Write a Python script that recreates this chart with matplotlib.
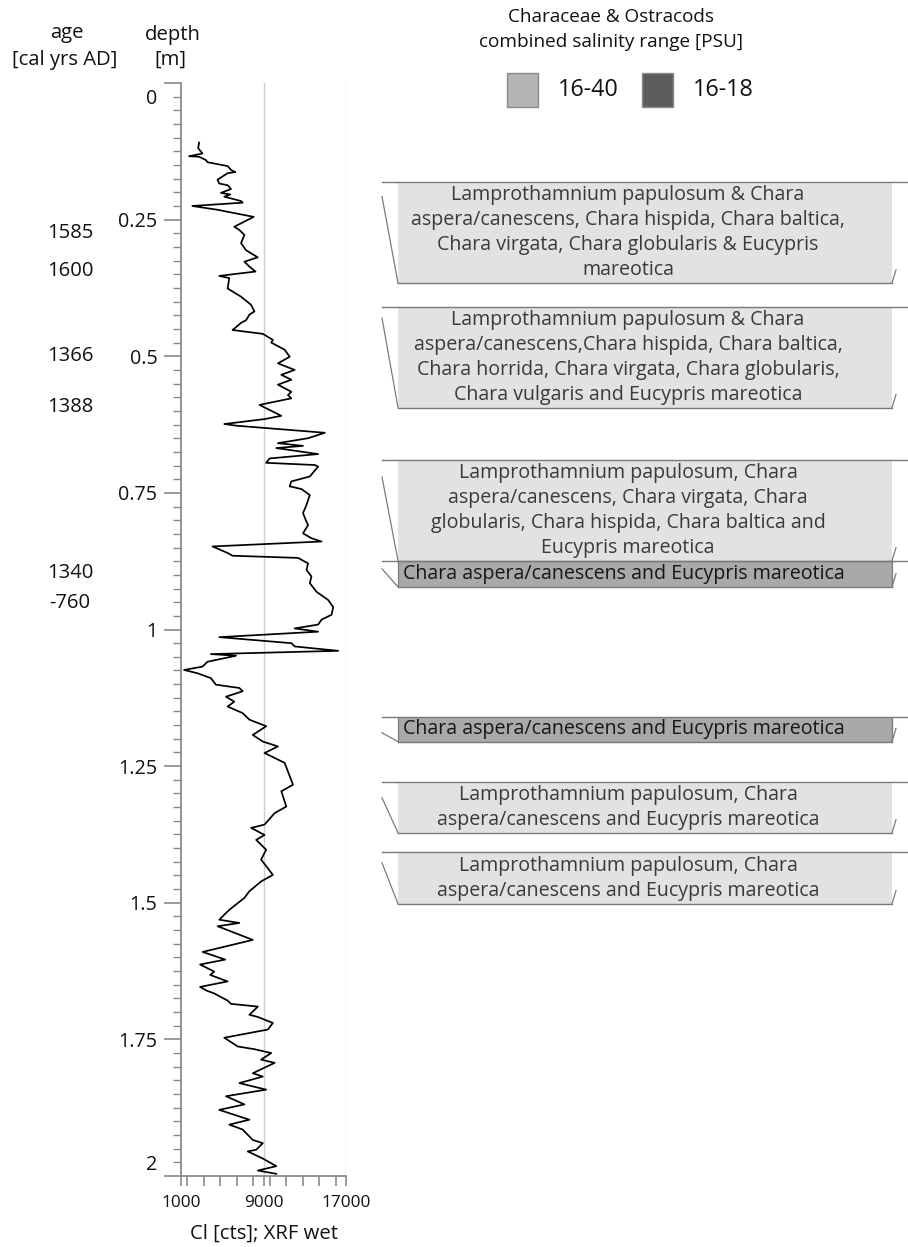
import matplotlib
matplotlib.use("Agg")
import matplotlib.pyplot as plt
from matplotlib.patches import Rectangle, Polygon
from matplotlib.ticker import MultipleLocator
from matplotlib.transforms import ScaledTranslation, blended_transform_factory

plt.rcParams["font.family"] = ["Open Sans", "DejaVu Sans"]

# Cl counts (XRF, wet) against core depth [m]
depth = [0.109, 0.119, 0.129, 0.134, 0.135, 0.141, 0.145, 0.152, 0.159, 0.163,
         0.165, 0.177, 0.184, 0.187, 0.194, 0.201, 0.204, 0.208, 0.216, 0.219,
         0.225, 0.232, 0.245, 0.263, 0.269, 0.278, 0.293, 0.306, 0.319, 0.327,
         0.336, 0.345, 0.353, 0.357, 0.376, 0.391, 0.406, 0.418, 0.424, 0.434,
         0.439, 0.452, 0.459, 0.470, 0.475, 0.488, 0.501, 0.513, 0.525, 0.534,
         0.543, 0.552, 0.565, 0.571, 0.577, 0.589, 0.609, 0.615, 0.624, 0.627,
         0.640, 0.650, 0.659, 0.664, 0.668, 0.679, 0.687, 0.695, 0.699, 0.702,
         0.720, 0.729, 0.738, 0.743, 0.754, 0.772, 0.787, 0.803, 0.809, 0.824,
         0.833, 0.839, 0.848, 0.860, 0.865, 0.869, 0.879, 0.891, 0.903, 0.915,
         0.931, 0.946, 0.959, 0.973, 0.982, 0.991, 0.998, 1.001, 1.004, 1.014,
         1.025, 1.031, 1.039, 1.045, 1.048, 1.059, 1.068, 1.074, 1.080, 1.089,
         1.101, 1.107, 1.113, 1.123, 1.132, 1.141, 1.153, 1.165, 1.177, 1.193,
         1.205, 1.214, 1.226, 1.235, 1.244, 1.260, 1.284, 1.296, 1.324, 1.336,
         1.357, 1.363, 1.376, 1.385, 1.403, 1.421, 1.449, 1.461, 1.479, 1.491,
         1.513, 1.531, 1.537, 1.543, 1.568, 1.590, 1.604, 1.613, 1.626, 1.632,
         1.644, 1.654, 1.661, 1.666, 1.679, 1.685, 1.690, 1.705, 1.709, 1.720,
         1.732, 1.747, 1.763, 1.768, 1.775, 1.787, 1.793, 1.812, 1.818, 1.830,
         1.842, 1.854, 1.869, 1.879, 1.897, 1.906, 1.915, 1.934, 1.940, 1.952,
         1.955, 1.968, 1.982, 1.990, 1.996]
cl = [2760, 2660, 3080, 1780, 2760, 3410, 3570, 5520, 5850, 6270,
      5520, 4540, 4710, 5520, 5850, 4870, 5780, 5200, 6820, 6980,
      2100, 4540, 8050, 6170, 6660, 7150, 6820, 7310, 8440, 7150,
      7630, 8220, 4710, 5680, 5520, 6820, 7800, 8120, 7630, 7310,
      6820, 6000, 8930, 9910, 9750, 11050, 11540, 10400, 12020, 10730,
      11700, 10400, 11700, 11370, 11700, 8610, 10730, 9100, 5200, 6340,
      14950, 13320, 10400, 12830, 10240, 14300, 9590, 9260, 13980, 14300,
      13490, 11700, 11540, 12680, 13490, 13170, 12830, 13170, 13320, 12830,
      13650, 14630, 4050, 5520, 6000, 12350, 13320, 13170, 13650, 13490,
      14140, 15270, 15760, 15600, 14630, 14300, 12020, 13170, 14300, 4710,
      11700, 12020, 16250, 3900, 6340, 3570, 3080, 1290, 2590, 3900,
      4390, 6660, 6980, 5360, 6170, 5520, 6980, 7630, 9260, 7960,
      8930, 10400, 9100, 10080, 11050, 11370, 11860, 10730, 11210, 10080,
      9100, 7800, 9100, 8290, 9260, 8770, 9910, 8770, 7630, 7150,
      5680, 4710, 6660, 4550, 7960, 3100, 5290, 2850, 4230, 3830,
      5520, 2850, 3510, 4230, 5520, 5850, 8450, 7630, 8450, 9910,
      9420, 5200, 6500, 8130, 9750, 8770, 10080, 7960, 8930, 6660,
      9260, 5360, 7150, 4710, 7630, 5680, 6980, 7960, 8930, 8290,
      7470, 8930, 10240, 8450, 10240]

age_depth = [0.274, 0.344, 0.500, 0.593, 0.896, 0.951]
age_label = ["1585", "1600", "1366", "1388", "1340", "-760"]

# sampled intervals with the taxa found and their salinity class
zone_top = [0.181, 0.410, 0.690, 0.874, 1.160, 1.279, 1.408]
zone_bottom = [0.208, 0.430, 0.721, 0.889, 1.189, 1.308, 1.427]
zone_range = ["16-40", "16-40", "16-40", "16-18", "16-18", "16-40", "16-40"]
zone_text = [
    "Lamprothamnium papulosum & Chara\naspera/canescens, Chara hispida, Chara baltica,\n"
    "Chara virgata, Chara globularis & Eucypris\nmareotica",
    "Lamprothamnium papulosum & Chara\naspera/canescens,Chara hispida, Chara baltica,\n"
    "Chara horrida, Chara virgata, Chara globularis,\nChara vulgaris and Eucypris mareotica",
    "Lamprothamnium papulosum, Chara\naspera/canescens, Chara virgata, Chara\n"
    "globularis, Chara hispida, Chara baltica and\nEucypris mareotica",
    "Chara aspera/canescens and Eucypris mareotica",
    "Chara aspera/canescens and Eucypris mareotica",
    "Lamprothamnium papulosum, Chara\naspera/canescens and Eucypris mareotica",
    "Lamprothamnium papulosum, Chara\naspera/canescens and Eucypris mareotica",
]
# how far down each label box is stretched to hold its text
box_bottom = [0.366, 0.594, 0.874, 0.922, 1.205, 1.372, 1.502]

range_fill = {"16-40": "#e2e2e2", "16-18": "#a9a9a9"}
range_key = {"16-40": "#b4b4b4", "16-18": "#5c5c5c"}
range_ink = {"16-40": "#3a3a3a", "16-18": "#161616"}
ink = "#111111"
axis_grey = "#8a8a8a"

W, H = 908, 1247
fig = plt.figure(figsize=(W / 100, H / 100), dpi=100)

# pixel overlay for headers and legend
pax = fig.add_axes([0, 0, 1, 1])
pax.set_xlim(0, W)
pax.set_ylim(H, 0)
pax.axis("off")

top_px, bot_px = 83, 1176
ax_l, ax_r = 181, 346
ax = fig.add_axes([ax_l / W, 1 - bot_px / H, (ax_r - ax_l) / W, (bot_px - top_px) / H])
ax.patch.set_visible(False)
ax.plot(cl, depth, color="black", lw=1.25)
ax.set_xlim(1000, 17000)
ax.set_ylim(2, 0)
for v in (9000, 17000):
    ax.axvline(v, color="#cfcfcf", lw=1.0, zorder=0)
for s in ("top", "right"):
    ax.spines[s].set_visible(False)
for s in ("left", "bottom"):
    ax.spines[s].set_color(axis_grey)
    ax.spines[s].set_linewidth(1.3)

ax.set_yticks([0, 0.25, 0.5, 0.75, 1, 1.25, 1.5, 1.75, 2])
ax.set_yticklabels(["0", "0.25", "0.5", "0.75", "1", "1.25", "1.5", "1.75", "2"])
ax.yaxis.set_minor_locator(MultipleLocator(0.025))
ax.set_xticks([1000, 9000, 17000])
ax.set_xticklabels(["1000", "9000", "17000"])
ax.xaxis.set_minor_locator(MultipleLocator(1600))
ax.tick_params(axis="y", which="major", length=12, width=1.2, color=axis_grey,
               labelsize=14.2, pad=5, labelcolor=ink)
ax.tick_params(axis="y", which="minor", length=6, width=1.0, color=axis_grey)
ax.tick_params(axis="x", which="both", length=7, width=1.2, color=axis_grey,
               labelsize=12.4, pad=7, labelcolor=ink)
ylabels = ax.get_yticklabels()
ylabels[0].set_transform(ylabels[0].get_transform() + ScaledTranslation(0, -0.14, fig.dpi_scale_trans))
ylabels[-1].set_transform(ylabels[-1].get_transform() + ScaledTranslation(0, 0.14, fig.dpi_scale_trans))
ax.set_xlabel("Cl [cts]; XRF wet", fontsize=14.6, labelpad=9, color=ink)

# age column
age_tf = blended_transform_factory(fig.transFigure, ax.transData)
for d, a in zip(age_depth, age_label):
    fig.text(70 / W, d, a, transform=age_tf, ha="center", va="center",
             fontsize=14.6, color=ink)

pax.text(67, 33, "age", ha="center", va="center", fontsize=14.6, color=ink)
pax.text(65, 60, "[cal yrs AD]", ha="center", va="center", fontsize=14.6, color=ink)
pax.text(173, 35, "depth", ha="center", va="center", fontsize=14.6, color=ink)
pax.text(170, 60, "[m]", ha="center", va="center", fontsize=14.6, color=ink)

# legend
pax.text(611, 17, "Characeae & Ostracods", ha="center", va="center", fontsize=13.6, color=ink)
pax.text(611, 42, "combined salinity range [PSU]", ha="center", va="center", fontsize=13.7,
         color=ink)
for x0, key in ((507, "16-40"), (642, "16-18")):
    pax.add_patch(Rectangle((x0, 73), 31, 34, facecolor=range_key[key],
                            edgecolor=axis_grey, lw=1.0))
    pax.text(x0 + 51, 90, key, ha="left", va="center", fontsize=16.8, color=ink)

# zone boxes, y in depth
zax = fig.add_axes([370 / W, 1 - bot_px / H, (W - 370) / W, (bot_px - top_px) / H])
zax.set_xlim(370, W)
zax.set_ylim(2, 0)
zax.axis("off")
xl0, xl1, xr1, xr0 = 382, 398, 892, 909
edge = "#7a7a7a"
for top, bot, rng, txt, bb in zip(zone_top, zone_bottom, zone_range, zone_text, box_bottom):
    zax.add_patch(Polygon([(xl1, top), (xr1, top), (xr1, bb), (xl1, bb)], closed=True,
                          facecolor=range_fill[rng], edgecolor="none"))
    zax.plot([xl0, xr0], [top, top], color=edge, lw=1.0, clip_on=False)
    zax.plot([xl1, xr1], [bb, bb], color=edge, lw=1.0)
    zax.plot([xl0, xl1], [bot, bb], color=edge, lw=0.9)
    zax.plot([xr1, xr1 + 4], [bb, bb - 0.024], color=edge, lw=0.9)
    if rng == "16-18":
        zax.plot([xl1, xl1], [top, bb], color=edge, lw=0.9)
        zax.plot([xr1, xr1], [top, bb], color=edge, lw=0.9)
        zax.text(403, (top + bb) / 2, txt, ha="left", va="center", fontsize=14.1,
                 color=range_ink[rng])
    else:
        zax.text(628, (top + bb) / 2, txt, ha="center", va="center", multialignment="center",
                 fontsize=14.1, color=range_ink[rng], linespacing=1.33)

fig.savefig("out.png", dpi=100)
